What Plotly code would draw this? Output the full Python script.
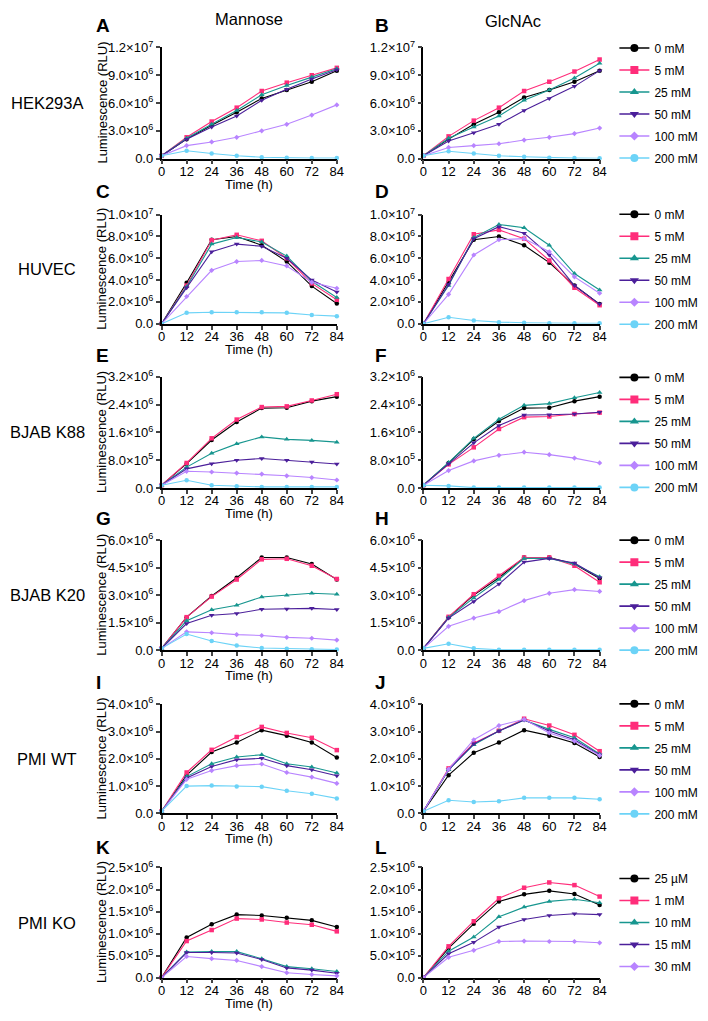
import plotly.graph_objects as go

# the page body has an 8px margin, so the figure is drawn 8px smaller
W, H = 708, 1021
OFF = 8
FW, FH = W - OFF, H - OFF

hours = [0, 12, 24, 36, 48, 60, 72, 84]

doses = ["0 mM", "5 mM", "25 mM", "50 mM", "100 mM", "200 mM"]
doses_ko = ["25 µM", "1 mM", "10 mM", "15 mM", "30 mM"]

colors = ["#000000", "#FF2D7A", "#17968F", "#4B1F9A", "#B884FF", "#6CD3F7"]
symbols = ["circle", "square", "triangle-up", "triangle-down", "diamond", "circle"]
marker_sizes = [4.5, 4.5, 5, 5, 4, 4.5]
legend_marker_sizes = [8, 8, 8, 8, 7, 8]

cell_lines = ["HEK293A", "HUVEC", "BJAB K88", "BJAB K20", "PMI WT", "PMI KO"]
letters = [["A", "B"], ["C", "D"], ["E", "F"], ["G", "H"], ["I", "J"], ["K", "L"]]
sugars = ["Mannose", "GlcNAc"]

# luminescence, in units of 10^6 RLU; one row per dose
hek_mannose = [
    [0.3, 2.1, 3.6, 5.0, 6.5, 7.4, 8.3, 9.5],
    [0.3, 2.3, 4.0, 5.5, 7.3, 8.2, 9.0, 9.8],
    [0.3, 2.2, 3.7, 5.2, 6.9, 7.9, 8.8, 9.7],
    [0.3, 2.1, 3.4, 4.6, 6.3, 7.5, 8.6, 9.6],
    [0.3, 1.4, 1.8, 2.3, 3.0, 3.7, 4.7, 5.8],
    [0.3, 0.85, 0.55, 0.3, 0.15, 0.08, 0.05, 0.05],
]
hek_glcnac = [
    [0.3, 2.1, 3.7, 5.0, 6.6, 7.4, 8.3, 9.5],
    [0.3, 2.4, 4.1, 5.5, 7.3, 8.3, 9.4, 10.7],
    [0.3, 2.2, 3.4, 4.6, 6.3, 7.4, 8.7, 10.3],
    [0.3, 1.9, 2.8, 3.7, 5.2, 6.5, 7.8, 9.5],
    [0.3, 1.2, 1.4, 1.6, 2.0, 2.3, 2.7, 3.3],
    [0.3, 0.8, 0.55, 0.3, 0.2, 0.1, 0.05, 0.03],
]
huvec_mannose = [
    [0, 3.75, 7.7, 8.0, 7.2, 5.7, 3.45, 1.85],
    [0, 3.5, 7.65, 8.15, 7.6, 6.0, 3.7, 2.2],
    [0, 3.4, 7.3, 7.9, 7.5, 6.2, 3.9, 2.4],
    [0, 3.3, 6.6, 7.3, 7.1, 6.0, 4.0, 2.9],
    [0, 2.5, 4.9, 5.7, 5.8, 5.3, 3.8, 3.25],
    [0, 1.0, 1.05, 1.05, 1.05, 1.0, 0.8, 0.7],
]
huvec_glcnac = [
    [0, 3.8, 7.7, 8.0, 7.2, 5.6, 3.5, 1.8],
    [0, 4.1, 8.2, 8.6, 7.8, 5.8, 3.3, 1.7],
    [0, 3.5, 7.9, 9.1, 8.8, 7.2, 4.6, 3.1],
    [0, 3.6, 7.8, 8.9, 8.3, 6.3, 3.5, 1.8],
    [0, 2.7, 6.3, 7.7, 7.8, 6.6, 4.3, 2.8],
    [0, 0.6, 0.3, 0.15, 0.1, 0.05, 0.05, 0.05],
]
k88_mannose = [
    [0.08, 0.7, 1.38, 1.9, 2.3, 2.31, 2.5, 2.63],
    [0.08, 0.72, 1.43, 1.97, 2.33, 2.35, 2.52, 2.7],
    [0.08, 0.6, 1.0, 1.27, 1.47, 1.4, 1.37, 1.32],
    [0.08, 0.55, 0.7, 0.8, 0.85, 0.8, 0.75, 0.69],
    [0.08, 0.48, 0.46, 0.43, 0.4, 0.35, 0.3, 0.23],
    [0.08, 0.22, 0.08, 0.05, 0.03, 0.03, 0.03, 0.03],
]
k88_glcnac = [
    [0.08, 0.72, 1.4, 1.93, 2.3, 2.31, 2.5, 2.63],
    [0.08, 0.68, 1.17, 1.7, 2.04, 2.06, 2.13, 2.17],
    [0.08, 0.73, 1.43, 1.98, 2.38, 2.43, 2.6, 2.75],
    [0.08, 0.7, 1.3, 1.8, 2.1, 2.11, 2.13, 2.18],
    [0.08, 0.5, 0.78, 0.94, 1.03, 0.96, 0.86, 0.72],
    [0.08, 0.06, 0.01, 0.01, 0.01, 0.01, 0.01, 0.01],
]
k20_mannose = [
    [0.1, 1.8, 2.95, 3.95, 5.05, 5.05, 4.7, 3.85],
    [0.1, 1.8, 2.92, 3.85, 4.95, 4.98, 4.6, 3.88],
    [0.1, 1.6, 2.2, 2.45, 2.9, 3.0, 3.1, 3.05],
    [0.1, 1.45, 1.9, 2.0, 2.23, 2.24, 2.28, 2.22],
    [0.1, 1.0, 0.95, 0.85, 0.8, 0.7, 0.65, 0.55],
    [0.1, 0.88, 0.5, 0.25, 0.12, 0.08, 0.05, 0.04],
]
k20_glcnac = [
    [0.1, 1.8, 3.0, 3.95, 5.05, 5.05, 4.7, 3.9],
    [0.1, 1.82, 3.05, 4.05, 5.05, 5.05, 4.6, 3.7],
    [0.1, 1.78, 2.85, 3.85, 5.0, 5.0, 4.7, 4.0],
    [0.1, 1.75, 2.65, 3.6, 4.8, 5.0, 4.75, 3.95],
    [0.1, 1.3, 1.75, 2.1, 2.7, 3.1, 3.3, 3.2],
    [0.1, 0.35, 0.1, 0.02, 0.02, 0.02, 0.02, 0.02],
]
wt_mannose = [
    [0.08, 1.4, 2.25, 2.6, 3.05, 2.85, 2.6, 2.05],
    [0.08, 1.5, 2.33, 2.8, 3.17, 2.95, 2.77, 2.32],
    [0.08, 1.35, 1.82, 2.07, 2.15, 1.82, 1.7, 1.48],
    [0.08, 1.3, 1.72, 1.97, 2.02, 1.75, 1.6, 1.38],
    [0.08, 1.25, 1.57, 1.75, 1.81, 1.5, 1.33, 1.1],
    [0.08, 1.0, 1.02, 0.99, 0.98, 0.83, 0.72, 0.55],
]
wt_glcnac = [
    [0.08, 1.4, 2.22, 2.6, 3.05, 2.85, 2.58, 2.07],
    [0.08, 1.65, 2.57, 3.03, 3.47, 3.22, 2.88, 2.28],
    [0.08, 1.6, 2.52, 3.02, 3.42, 3.08, 2.77, 2.18],
    [0.08, 1.6, 2.55, 3.02, 3.42, 3.02, 2.7, 2.15],
    [0.08, 1.62, 2.7, 3.22, 3.45, 2.95, 2.65, 2.12],
    [0.08, 0.48, 0.42, 0.45, 0.57, 0.57, 0.57, 0.52],
]
ko_mannose = [
    [0, 0.91, 1.21, 1.43, 1.41, 1.36, 1.3, 1.15],
    [0, 0.83, 1.08, 1.34, 1.32, 1.25, 1.2, 1.05],
    [0, 0.58, 0.59, 0.59, 0.43, 0.25, 0.2, 0.14],
    [0, 0.57, 0.57, 0.56, 0.41, 0.22, 0.17, 0.1],
    [0, 0.48, 0.43, 0.39, 0.25, 0.11, 0.07, 0.04],
]
ko_glcnac = [
    [0, 0.67, 1.22, 1.73, 1.89, 1.97, 1.9, 1.65],
    [0, 0.71, 1.28, 1.8, 2.04, 2.16, 2.1, 1.84],
    [0, 0.6, 0.92, 1.38, 1.6, 1.73, 1.78, 1.7],
    [0, 0.54, 0.8, 1.15, 1.32, 1.41, 1.45, 1.43],
    [0, 0.46, 0.62, 0.82, 0.83, 0.82, 0.82, 0.79],
]

panels = [
    (hek_mannose, hek_glcnac),
    (huvec_mannose, huvec_glcnac),
    (k88_mannose, k88_glcnac),
    (k20_mannose, k20_glcnac),
    (wt_mannose, wt_glcnac),
    (ko_mannose, ko_glcnac),
]
legend_labels = [doses, doses, doses, doses, doses, doses_ko]

# y ticks per row (10^6 RLU) and their labels
y_ticks = [
    [0, 3, 6, 9, 12],
    [0, 2, 4, 6, 8, 10],
    [0, 0.8, 1.6, 2.4, 3.2],
    [0, 1.5, 3, 4.5, 6],
    [0, 1, 2, 3, 4],
    [0, 0.5, 1, 1.5, 2, 2.5],
]
y_ticktext = [
    ["0.0", "3.0×10<sup>6</sup>", "6.0×10<sup>6</sup>", "9.0×10<sup>6</sup>", "1.2×10<sup>7</sup>"],
    ["0.0", "2.0×10<sup>6</sup>", "4.0×10<sup>6</sup>", "6.0×10<sup>6</sup>", "8.0×10<sup>6</sup>", "1.0×10<sup>7</sup>"],
    ["0.0", "8.0×10<sup>5</sup>", "1.6×10<sup>6</sup>", "2.4×10<sup>6</sup>", "3.2×10<sup>6</sup>"],
    ["0.0", "1.5×10<sup>6</sup>", "3.0×10<sup>6</sup>", "4.5×10<sup>6</sup>", "6.0×10<sup>6</sup>"],
    ["0.0", "1.0×10<sup>6</sup>", "2.0×10<sup>6</sup>", "3.0×10<sup>6</sup>", "4.0×10<sup>6</sup>"],
    ["0.0", "5.0×10<sup>5</sup>", "1.0×10<sup>6</sup>", "1.5×10<sup>6</sup>", "2.0×10<sup>6</sup>", "2.5×10<sup>6</sup>"],
]

# pixel layout (page coordinates)
row_top = [39, 209, 374, 540, 707, 873]
row_bottom = [152, 320, 487, 652, 818, 985]
letter_y = [17, 185, 352, 518, 685, 853]
col_left = [160, 426]
col_right = [338, 605]
col_center = [249, 517]
letter_x = [91, 375]
FONT = "Arial, 'Liberation Sans', sans-serif"


def px(x):
    return (x - OFF) / FW


def py(y):
    return 1 - (y - OFF) / FH


def label(text, x, y, size, **kw):
    return dict(
        text=text, x=px(x), y=py(y), xref="paper", yref="paper",
        xanchor=kw.pop("xanchor", "center"), yanchor="middle", showarrow=False,
        font=dict(size=size, color="black", family=FONT), **kw,
    )


def main():
    fig = go.Figure()
    annotations = []

    for row in range(6):
        legend_name = "legend" if row == 0 else f"legend{row + 1}"
        mid = (row_top[row] + row_bottom[row]) / 2
        for col in range(2):
            n = row * 2 + col + 1
            xa = "x" if n == 1 else f"x{n}"
            ya = "y" if n == 1 else f"y{n}"
            series = panels[row][col]

            for i, values in enumerate(series):
                fig.add_trace(go.Scatter(
                    x=hours, y=values, mode="lines+markers",
                    xaxis=xa, yaxis=ya, showlegend=False, cliponaxis=False,
                    line=dict(color=colors[i], width=1.1),
                    marker=dict(color=colors[i], symbol=symbols[i], size=marker_sizes[i]),
                ))

            fig.layout["xaxis" if n == 1 else f"xaxis{n}"] = dict(
                domain=[px(col_left[col]), px(col_right[col])], anchor=ya,
                range=[0, 84], tickvals=hours, ticks="outside", ticklen=4,
                ticklabelstandoff=-4,
                tickwidth=1.5, showline=True, linecolor="black", linewidth=1.6,
                showgrid=False, zeroline=False,
                tickfont=dict(size=13, color="black", family=FONT),
            )
            fig.layout["yaxis" if n == 1 else f"yaxis{n}"] = dict(
                domain=[py(row_bottom[row]), py(row_top[row])], anchor=xa,
                range=[0, y_ticks[row][-1]], tickvals=y_ticks[row],
                ticktext=y_ticktext[row], ticks="outside", ticklen=4,
                tickwidth=1.5, showline=True, linecolor="black", linewidth=1.6,
                showgrid=False, zeroline=False,
                tickfont=dict(size=13, color="black", family=FONT),
            )

            annotations.append(label(f"<b>{letters[row][col]}</b>", letter_x[col],
                                     letter_y[row], 19, xanchor="left"))

        # legend entries (larger markers than the plotted points)
        for i, name in enumerate(legend_labels[row]):
            fig.add_trace(go.Scatter(
                x=[None], y=[None], mode="lines+markers", name=name,
                xaxis=f"x{row * 2 + 2}", yaxis=f"y{row * 2 + 2}",
                legend=legend_name, legendgroup=f"r{row}_{i}",
                line=dict(color=colors[i], width=1.6),
                marker=dict(color=colors[i], symbol=symbols[i], size=legend_marker_sizes[i]),
            ))
        fig.layout[legend_name] = dict(
            x=px(620), xanchor="left", y=py(mid), yanchor="middle",
            font=dict(size=12, color="black", family=FONT),
            bgcolor="rgba(0,0,0,0)", tracegroupgap=3, itemwidth=30,
            traceorder="grouped",
        )

        annotations.append(label(cell_lines[row], 44, mid, 16.5))
        annotations.append(label("Luminescence (RLU)", 99, mid, 13, textangle=-90))
        annotations.append(label("Time (h)", col_center[0], row_bottom[row] + 26, 13))

    annotations.append(label(sugars[0], col_center[0], 10, 16.5))
    annotations.append(label(sugars[1], col_center[1], 12, 16.5))

    fig.update_layout(
        width=FW, height=FH, margin=dict(l=0, r=0, t=0, b=0),
        paper_bgcolor="white", plot_bgcolor="white",
        annotations=annotations, showlegend=True,
        font=dict(family=FONT, color="black"),
    )
    fig.write_html("out.html")


if __name__ == "__main__":
    main()
